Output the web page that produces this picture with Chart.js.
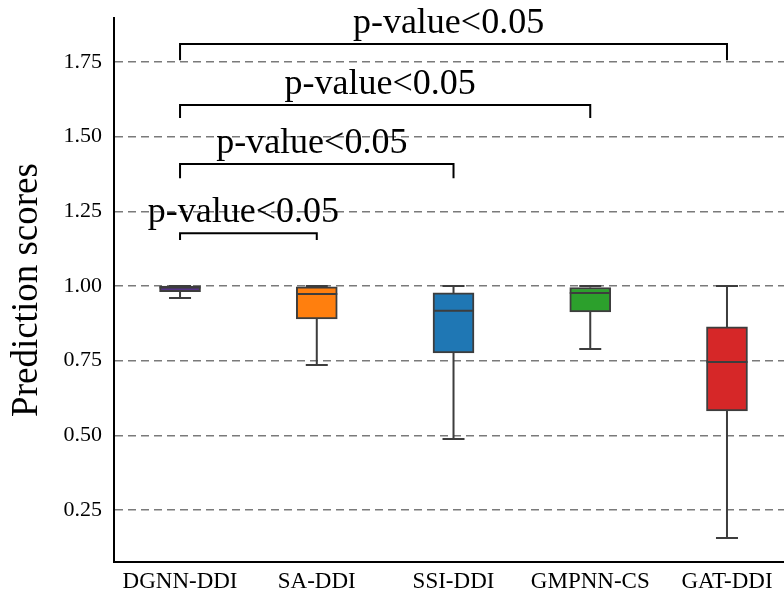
<!DOCTYPE html>
<html>
<head>
<meta charset="utf-8">
<title>Prediction scores</title>
<script src="https://cdn.jsdelivr.net/npm/chart.js@4"></script>
<style>
  html, body { margin: 0; padding: 0; background: #fff; }
  #wrap { width: 784px; height: 595px; position: relative; }
</style>
</head>
<body>
<div id="wrap"><canvas id="chart"></canvas></div>
<script>
'use strict';

// box plot data per model
const models   = ['DGNN-DDI', 'SA-DDI', 'SSI-DDI', 'GMPNN-CS', 'GAT-DDI'];
const mins     = [0.960, 0.736, 0.488, 0.789, 0.157];
const q1s      = [0.981, 0.890, 0.776, 0.913, 0.582];
const medians  = [0.995, 0.973, 0.917, 0.977, 0.746];
const q3s      = [1.000, 0.997, 0.977, 0.995, 0.863];
const maxs     = [1.000, 1.000, 1.000, 1.000, 1.000];
const colors   = ['#553388', '#ff7f0e', '#1f77b4', '#2ca02c', '#d62728'];

const yTicks   = [0.25, 0.50, 0.75, 1.00, 1.25, 1.50, 1.75];

// significance brackets: from model index to model index
const bracketFrom = [0, 0, 0, 0];
const bracketTo   = [1, 2, 3, 4];
const bracketTop  = [1.177, 1.408, 1.606, 1.810];
const bracketLeg  = [1.154, 1.361, 1.562, 1.756];
const bracketText = ['p-value<0.05', 'p-value<0.05', 'p-value<0.05', 'p-value<0.05'];

const FONT = '"Liberation Serif", "Times New Roman", serif';
const EDGE = '#3d3d3d';

const boxParts = {
  id: 'boxParts',
  beforeDatasetsDraw(chart) {
    const {ctx, scales: {x, y}} = chart;
    ctx.save();
    ctx.strokeStyle = EDGE;
    ctx.lineWidth = 2;
    models.forEach((m, i) => {
      const cx = x.getPixelForValue(i);
      const capW = 11;
      ctx.beginPath();
      ctx.moveTo(cx, y.getPixelForValue(q3s[i]));
      ctx.lineTo(cx, y.getPixelForValue(maxs[i]));
      ctx.moveTo(cx, y.getPixelForValue(q1s[i]));
      ctx.lineTo(cx, y.getPixelForValue(mins[i]));
      ctx.moveTo(cx - capW, y.getPixelForValue(maxs[i]));
      ctx.lineTo(cx + capW, y.getPixelForValue(maxs[i]));
      ctx.moveTo(cx - capW, y.getPixelForValue(mins[i]));
      ctx.lineTo(cx + capW, y.getPixelForValue(mins[i]));
      ctx.stroke();
    });
    ctx.restore();
  },
  afterDatasetsDraw(chart) {
    const {ctx, scales: {x, y}} = chart;
    ctx.save();
    ctx.strokeStyle = EDGE;
    ctx.lineWidth = 2;
    models.forEach((m, i) => {
      const cx = x.getPixelForValue(i);
      const py = y.getPixelForValue(medians[i]);
      ctx.beginPath();
      ctx.moveTo(cx - 20.5, py);
      ctx.lineTo(cx + 20.5, py);
      ctx.stroke();
    });
    ctx.restore();
  }
};

const brackets = {
  id: 'brackets',
  afterDraw(chart) {
    const {ctx, scales: {x, y}} = chart;
    ctx.save();
    ctx.strokeStyle = '#000';
    ctx.lineWidth = 2;
    ctx.fillStyle = '#000';
    ctx.font = '36px ' + FONT;
    ctx.textAlign = 'center';
    ctx.textBaseline = 'alphabetic';
    for (let i = 0; i < bracketFrom.length; i++) {
      const x0 = x.getPixelForValue(bracketFrom[i]);
      const x1 = x.getPixelForValue(bracketTo[i]);
      const yt = y.getPixelForValue(bracketTop[i]);
      const yl = y.getPixelForValue(bracketLeg[i]);
      ctx.beginPath();
      ctx.moveTo(x0, yl);
      ctx.lineTo(x0, yt);
      ctx.lineTo(x1, yt);
      ctx.lineTo(x1, yl);
      ctx.stroke();
      ctx.fillText(bracketText[i], (x0 + x1) / 2 - 5, yt - 11);
    }
    ctx.restore();
  }
};

const ctx = document.getElementById('chart').getContext('2d');
const chart = new Chart(ctx, {
  type: 'bar',
  data: {
    datasets: [{
      label: 'IQR',
      data: models.map((m, i) => ({x: i, y: [q1s[i], q3s[i]]})),
      backgroundColor: colors,
      borderColor: EDGE,
      borderWidth: 2,
      borderSkipped: false,
      barThickness: 41
    }]
  },
  options: {
    responsive: true,
    maintainAspectRatio: false,
    animation: false,
    layout: { padding: { top: 18, right: 0, left: 0, bottom: 0 } },
    plugins: {
      legend: { display: false },
      tooltip: { enabled: false }
    },
    scales: {
      x: {
        type: 'linear',
        offset: false,
        min: -0.483,
        max: 4.417,
        afterBuildTicks: s => { s.ticks = models.map((m, i) => ({value: i})); },
        afterFit: s => { s.height = 33; s.paddingLeft = 0; s.paddingRight = 0; },
        grid: { display: false, drawTicks: false },
        border: { display: true, color: '#000', width: 2 },
        ticks: {
          autoSkip: false,
          maxRotation: 0,
          padding: 6,
          color: '#000',
          font: { family: FONT, size: 23 },
          callback: v => models[v]
        }
      },
      y: {
        min: 0.0763,
        max: 1.897,
        afterBuildTicks: s => { s.ticks = yTicks.map(v => ({value: v})); },
        afterFit: s => { s.width = 114; s.paddingTop = 0; s.paddingBottom = 0; },
        grid: {
          color: '#7a7a7a',
          lineWidth: 1.5,
          drawTicks: false
        },
        border: { display: true, color: '#000', width: 2, dash: [8, 5] },
        ticks: {
          padding: 12,
          color: '#000',
          font: { family: FONT, size: 22 },
          callback: v => v.toFixed(2)
        },
        title: {
          display: true,
          text: 'Prediction scores',
          color: '#000',
          padding: { top: 5, bottom: 0 },
          font: { family: FONT, size: 37 }
        }
      }
    }
  },
  plugins: [boxParts, brackets]
});
</script>
</body>
</html>
